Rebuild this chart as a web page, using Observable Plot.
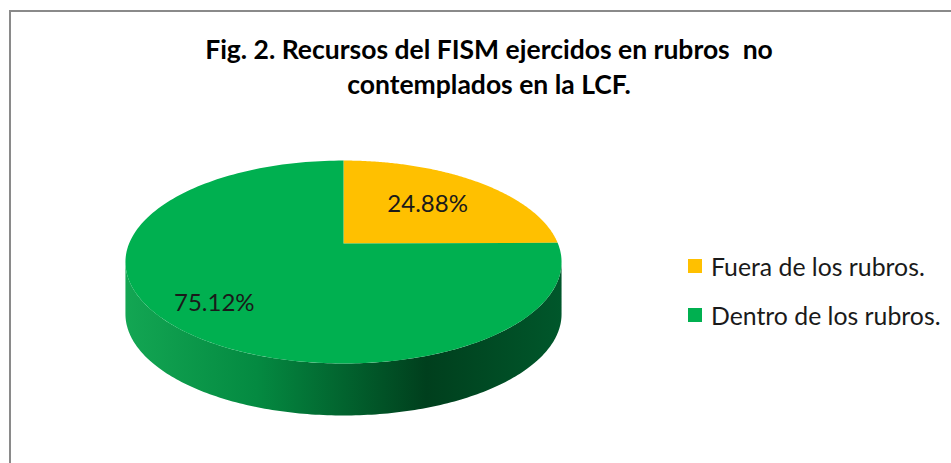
<!DOCTYPE html>
<html>
<head>
<meta charset="utf-8">
<script src="https://cdn.jsdelivr.net/npm/d3@7"></script>
<script src="https://cdn.jsdelivr.net/npm/@observablehq/plot@0.6"></script>
<style>
  html, body { margin: 0; padding: 0; background: #fff; overflow: hidden; }
  #wrap { position: relative; width: 951px; height: 463px; overflow: hidden; font-family: Lato, "Open Sans", sans-serif; }
  #frame { position: absolute; left: 9px; top: 10px; width: 1200px; height: 1200px; border: 2px solid #8a8a8a; box-sizing: border-box; }
  #title { position: absolute; left: 139px; width: 700px; top: 32px; text-align: center; font-weight: bold; font-size: 26.5px; line-height: 35px; color: #000; white-space: pre; }
  #chart { position: absolute; left: 0; top: 0; }
  #legend { position: absolute; left: 688px; top: 254px; font-size: 24.8px; color: #1a1a1a; }
  .item { display: flex; align-items: center; height: 24px; margin-bottom: 25px; white-space: nowrap; }
  .sw { width: 14px; height: 14px; margin-right: 9px; }
</style>
</head>
<body>
<div id="wrap">
  <div id="frame"></div>
  <div id="chart"></div>
  <div id="title"></div>
  <div id="legend"></div>
</div>
<script>
const titleLines = ["Fig. 2. Recursos del FISM ejercidos en rubros  no", "contemplados en la LCF."];
const categories = ["Fuera de los rubros.", "Dentro de los rubros."];
const values = [24.88, 75.12];
const labels = ["24.88%", "75.12%"];
const colors = ["#FFC000", "#00B050"];
const labelRadius = [0.6, 0.77];

// perspective projection of a tilted disc
const P = 5.48, depth = 0.53, N = 180;
function proj(t, r = 1) {
  const X = r * Math.sin(t), Y = r * Math.cos(t);
  const f = P / (P + Y);
  return {x: X * f, y: Y * f};
}
const total = d3.sum(values);
let acc = 0;
const slicePts = [], labelPts = [];
values.forEach((v, i) => {
  const a0 = acc / total * 2 * Math.PI;
  acc += v;
  const a1 = acc / total * 2 * Math.PI;
  slicePts.push({key: categories[i], x: 0, y: 0});
  for (let k = 0; k <= N; k++) {
    const p = proj(a0 + (a1 - a0) * k / N);
    slicePts.push({key: categories[i], ...p});
  }
  const m = proj((a0 + a1) / 2, labelRadius[i]);
  labelPts.push({...m, text: labels[i]});
});
const t0 = Math.acos(-1 / P), t1 = 2 * Math.PI - t0;
const frontArc = d3.range(N + 1).map(k => proj(t0 + (t1 - t0) * k / N));
const sidePts = [...frontArc, ...frontArc.slice().reverse().map(p => ({x: p.x, y: p.y - depth}))];

const svg = Plot.plot({
  width: 951, height: 463, margin: 0,
  style: {fontFamily: "Lato, 'Open Sans', sans-serif", background: "transparent"},
  x: {domain: [-1, 1], range: [128.6, 557.4], axis: null},
  y: {domain: [-1, 1], range: [341.1, 144.9], axis: null},
  color: {domain: categories, range: colors},
  marks: [
    Plot.line(sidePts, {x: "x", y: "y", fill: "url(#sideGrad)", stroke: "none"}),
    Plot.line(slicePts, {x: "x", y: "y", z: "key", fill: "key", stroke: "none"}),
    Plot.text(labelPts, {x: "x", y: "y", text: "text", fontSize: 24, fill: "#1a1a1a"})
  ]
});
const defs = d3.select(svg).insert("defs", ":first-child");
const g = defs.append("linearGradient").attr("id", "sideGrad").attr("x1", "0").attr("x2", "1").attr("y1", "0").attr("y2", "0");
[[0, "#13a653"], [0.3, "#048a41"], [0.69, "#003f1d"], [1, "#00572b"]].forEach(([o, c]) =>
  g.append("stop").attr("offset", o).attr("stop-color", c));
document.getElementById("chart").appendChild(svg);

document.getElementById("title").textContent = titleLines.join("\n");
const leg = d3.select("#legend");
categories.forEach((c, i) => {
  const it = leg.append("div").attr("class", "item");
  it.append("div").attr("class", "sw").style("background", colors[i]);
  it.append("span").text(c);
});
</script>
</body>
</html>
